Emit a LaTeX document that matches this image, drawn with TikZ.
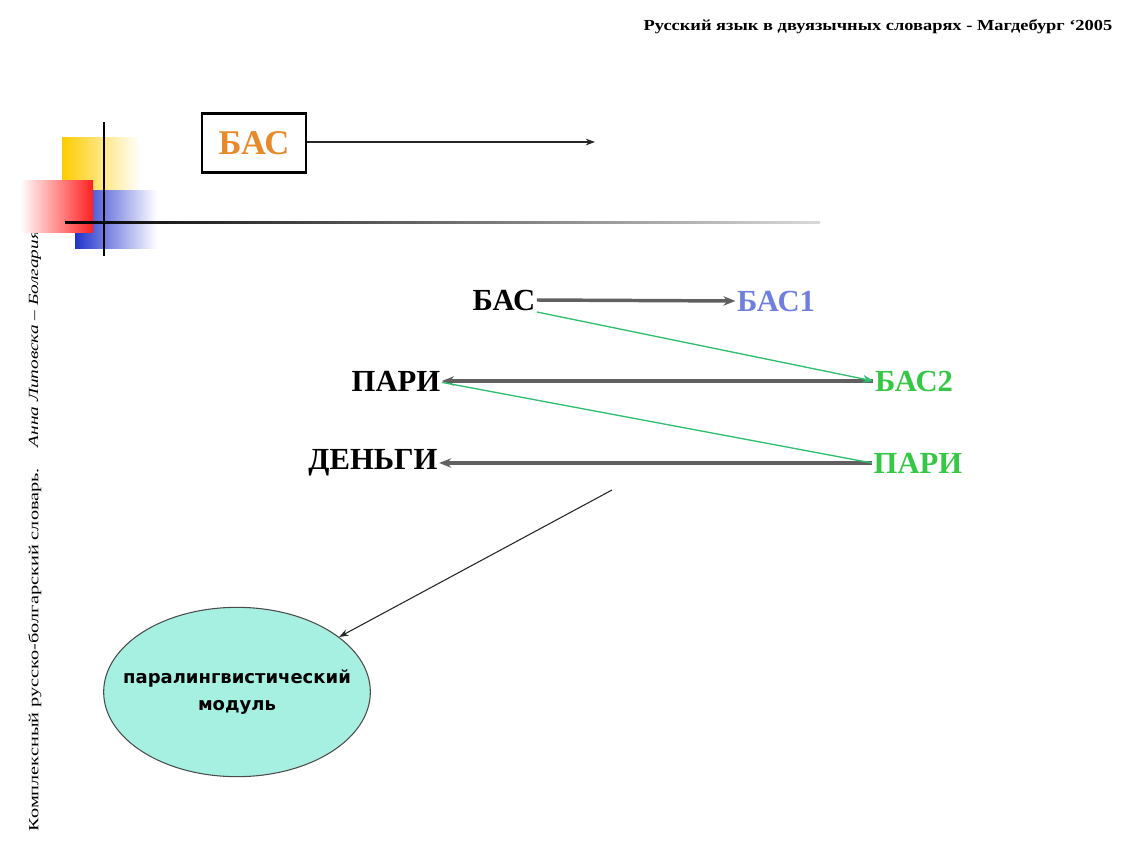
\documentclass[tikz,border=0pt]{standalone}
\usepackage{fontspec}
\setmainfont{Liberation Serif}
\newfontfamily\labelsans{DejaVu Sans}
\usetikzlibrary{arrows.meta,shapes.geometric}
\definecolor{basorange}{HTML}{E8892A}
\definecolor{basblue}{HTML}{6F7FE0}
\definecolor{basgreen}{HTML}{35C845}
\definecolor{linkgreen}{HTML}{2FBF6F}
\definecolor{flowgray}{HTML}{606060}
\definecolor{modfill}{HTML}{A6F0E2}
\definecolor{decoyellow}{HTML}{FFCC00}
\definecolor{decoblue}{HTML}{2233CC}
\definecolor{decored}{HTML}{FF2020}
\tikzset{
  word/.style={font=\fontsize{23}{26}\selectfont\bfseries, inner sep=1pt},
  flow/.style={draw=flowgray, line width=2.6pt, -{Stealth[length=9pt,width=7pt,fill=black!80]}},
  link/.style={draw=linkgreen, line width=1pt, -{Stealth[length=8pt,width=6pt]}},
  thin arrow/.style={draw=black!85, line width=0.8pt, -{Stealth[length=7pt,width=5pt]}},
}
\begin{document}
\begin{tikzpicture}[x=0.75pt,y=-0.75pt]
\useasboundingbox (0,0) rectangle (1129,843);
\fill[white] (0,0) rectangle (1129,843);

% header
\node[anchor=east, font=\fontsize{11.5}{13}\selectfont\bfseries] (head) at (1117,27)
  {\scalebox{1.2}[1]{Русский язык в двуязычных словарях - Магдебург ‘2005}};

% side caption
\node[rotate=90, anchor=west, font=\fontsize{10.5}{12}\selectfont] (side1) at (35,836)
  {\scalebox{1.45}[1]{Комплексный русско-болгарский словарь.}};
\node[rotate=90, anchor=west, font=\fontsize{10.5}{12}\selectfont\itshape] (side2) at (35,452)
  {\scalebox{1.38}[1]{Анна Липовска – Болгария}};

% decorative squares
\shade[left color=decoyellow, right color=white] (62,137) rectangle (140,190);
\shade[left color=decoblue, right color=white] (75,190) rectangle (157,248);
\shade[left color=white, right color=decored] (20,180) rectangle (93,232);
\shade[left color=black, right color=black!15] (65,221) rectangle (820,223.5);
\draw[line width=1.5pt] (104,122) -- (104,256);

% title box and its arrow
\node[draw, line width=2pt, minimum width=78pt, minimum height=44pt,
      font=\fontsize{26}{28}\selectfont\bfseries, text=basorange] (box) at (254,143) {БАС};
\coordinate (topend) at (595,142);
\draw[thin arrow] (box.east |- topend) -- (topend);

% words
\node[word] (bas) at (504,300) {БАС};
\node[word, text=basblue] (bas1) at (776,301) {БАС1};
\node[word] (pari) at (396,381) {ПАРИ};
\node[word, text=basgreen] (bas2) at (914,381) {БАС2};
\node[word] (dengi) at (373,463) {ДЕНЬГИ};
\node[word, text=basgreen] (parig) at (918,463) {ПАРИ};

\draw[flow] (bas.east) -- (bas1.west);
\draw[flow] (bas2.west) -- (pari.east);
\draw[flow] (parig.west) -- (dengi.east);
\draw[link] ([yshift=-9pt]bas.east) -- (bas2.west);
\draw[draw=linkgreen, line width=1pt] (parig.west) -- ([yshift=-1pt]pari.east);

% module: the oval and its label
\node[ellipse, draw=black!70, line width=0.8pt, fill=modfill, minimum width=200pt,
      minimum height=127pt, inner sep=0pt] (modul) at (237,692) {};
\node[align=center, font=\labelsans\fontsize{13.5}{20}\selectfont\bfseries] (modlabel)
  at (modul.center) {паралингвистический\\модуль};
\coordinate (modsrc) at (612,490);
\draw[thin arrow] (modsrc) -- (modul);
\end{tikzpicture}
\end{document}
